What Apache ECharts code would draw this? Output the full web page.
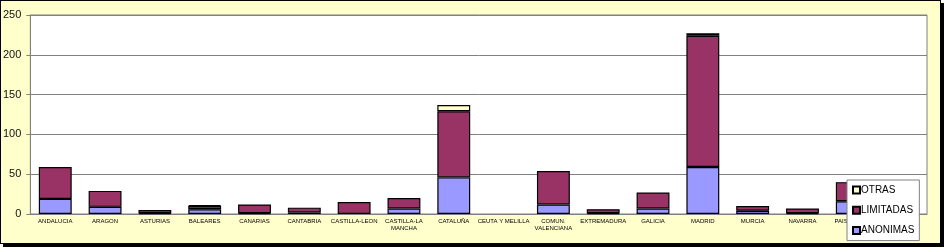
<!DOCTYPE html>
<html>
<head>
<meta charset="utf-8">
<script src="https://cdn.jsdelivr.net/npm/echarts@6/dist/echarts.min.js"></script>
<style>
html,body{margin:0;padding:0;background:#fff;}
#frame{position:absolute;left:0;top:0;width:939px;height:242px;background:#FFFFCC;border:1px solid #000;box-shadow:3px 3px 0 #000;}
#chart{position:absolute;left:0;top:0;width:944px;height:247px;}
</style>
</head>
<body>
<div id="frame"></div>
<div id="chart"></div>
<script>
var categories = ['ANDALUCIA','ARAGON','ASTURIAS','BALEARES','CANARIAS','CANTABRIA','CASTILLA-LEON','CASTILLA-LA\nMANCHA','CATALUÑA','CEUTA Y MELILLA','COMUN.\nVALENCIANA','EXTREMADURA','GALICIA','MADRID','MURCIA','NAVARRA','PAIS VASCO','LA RIOJA'];
var anonimas  = [19, 9, 1, 6, 1, 2, 0, 7, 46, 0, 12, 1, 7, 59, 4, 1, 16, 1];
var limitadas = [40, 20, 4, 4, 11, 6, 15, 13, 83, 0, 42, 5, 20, 165, 6, 6, 24, 3];
var otras     = [0, 0, 0, 1, 0, 0, 0, 0, 8, 0, 0, 0, 0, 3, 0, 0, 0, 0];
var yTicks = [0, 50, 100, 150, 200, 250];

var chart = echarts.init(document.getElementById('chart'), null, {renderer:'canvas'});
var font = 'Liberation Sans, Arial, sans-serif';
function mk(name, data, color){
  return {name:name, type:'bar', stack:'t',
    data:data.map(function(v){ return v === 0 ? '-' : v; }),
    barCategoryGap:'34%',
    itemStyle:{color:color, borderColor:'#000', borderWidth:1.2}, emphasis:{disabled:true}};
}
chart.setOption({
  animation:false,
  backgroundColor:'transparent',
  grid:{left:29, right:17, top:15, bottom:33, show:true, backgroundColor:'#fff', borderColor:'#808080', borderWidth:1},
  xAxis:{type:'category', data:categories,
    axisLine:{lineStyle:{color:'#808080'}}, axisTick:{show:false},
    axisLabel:{interval:0, fontSize:6, color:'#000', fontFamily:font, margin:4, lineHeight:7}},
  yAxis:{type:'value', min:yTicks[0], max:yTicks[yTicks.length-1], interval:50,
    axisLine:{show:true, lineStyle:{color:'#808080'}},
    axisTick:{show:true, length:4, lineStyle:{color:'#808080'}},
    splitLine:{lineStyle:{color:'#808080', width:1}},
    axisLabel:{fontSize:11, color:'#111', fontFamily:font, margin:9}},
  legend:{orient:'vertical', left:847, top:180, data:['OTRAS','LIMITADAS','ANONIMAS'],
    backgroundColor:'#fff', borderColor:'#808080', borderWidth:1, padding:[4,5,4,5],
    itemWidth:7, itemHeight:7, itemGap:8.3, icon:'rect',
    textStyle:{fontSize:10, lineHeight:12, color:'#000', fontFamily:font, padding:[0,0,0,-4]}},
  series:[mk('ANONIMAS', anonimas, '#9999FF'), mk('LIMITADAS', limitadas, '#993366'), mk('OTRAS', otras, '#FFFFCC')]
});
</script>
</body>
</html>
